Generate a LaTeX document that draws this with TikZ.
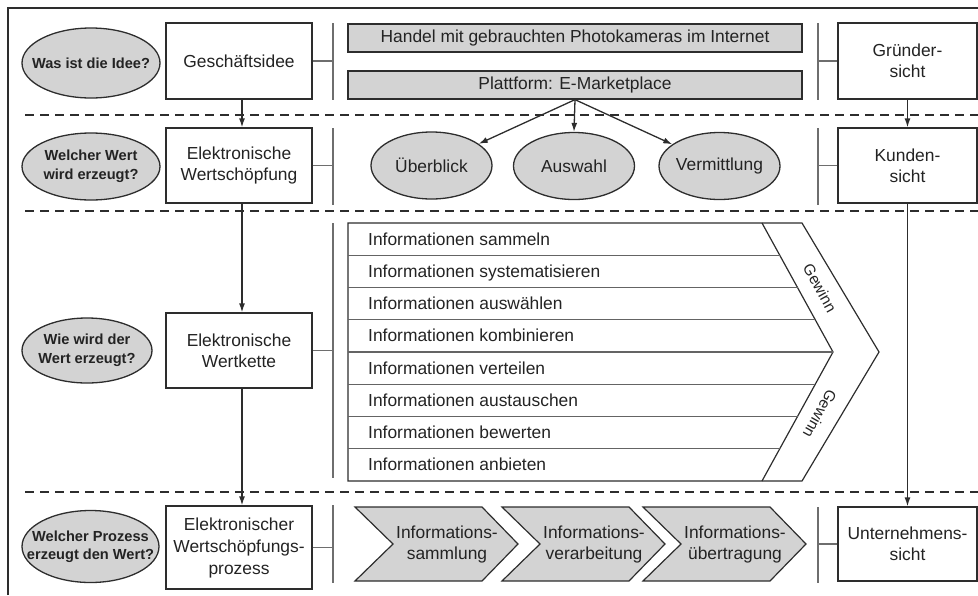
\documentclass[tikz,border=0pt]{standalone}
\usepackage{fontspec}
\setmainfont{Liberation Sans}
\usetikzlibrary{shapes.geometric,arrows.meta,calc}
\definecolor{grayf}{RGB}{211,211,211}
\definecolor{linec}{RGB}{45,45,45}
\definecolor{sepc}{RGB}{110,110,110}
\definecolor{rowc}{RGB}{100,100,100}
\definecolor{txtc}{RGB}{35,35,35}
\begin{document}
\begin{tikzpicture}[x=1pt,y=-1pt,
  fnt/.style={font=\fontsize{17.4}{21}\selectfont, text=txtc},
  wbox/.style={draw=linec, line width=1.3pt, fill=white, align=center, inner sep=0pt, fnt},
  gbox/.style={draw=linec, line width=1.3pt, fill=grayf, minimum width=454pt, minimum height=28pt, inner sep=0pt, fnt},
  qell/.style={ellipse, draw=linec, line width=1.3pt, fill=grayf, inner sep=0pt},
  qtxt/.style={font=\bfseries\fontsize{14.6}{18.5}\selectfont, align=center, text=txtc},
  oell/.style={ellipse, draw=linec, line width=1.3pt, fill=grayf, minimum width=121pt, minimum height=67pt, inner sep=0pt},
  otxt/.style={fnt},
  sepline/.style={draw=sepc, line width=1.3pt},
  dline/.style={draw=linec, line width=1.3pt, dash pattern=on 9pt off 6pt},
  arr/.style={draw=linec, line width=1.3pt, -{Latex[length=9pt,width=6pt]}},
  rowline/.style={draw=rowc, line width=1.1pt},
  chainline/.style={draw=linec, line width=1.2pt},
  chev/.style={draw=linec, line width=1.2pt, fill=grayf},
  gw/.style={font=\fontsize{15.5}{18}\selectfont, text=txtc, inner sep=0pt}
]
\useasboundingbox (0,0) rectangle (978,595);

% frame and dashed lines
\draw[linec, line width=1.3pt] (8,595) -- (8,8) -- (978,8);
\draw[dline] (25,115) -- (978,115);
\draw[dline] (25,211) -- (978,211);
\draw[dline] (25,492) -- (978,492);

\coordinate (sxl) at (333,0);
\coordinate (sxr) at (818,0);

% question ellipses
\node[qell, minimum width=138pt, minimum height=70pt, label={[qtxt]center:Was ist die Idee?}] (q1) at (91,63) {};
\node[qell, minimum width=138pt, minimum height=67pt, label={[qtxt]center:{Welcher Wert\\wird erzeugt?}}] (q2) at (91,166.5) {};
\node[qell, minimum width=130pt, minimum height=65pt, label={[qtxt]center:{Wie wird der\\Wert erzeugt?}}] (q3) at (87,350.5) {};
\node[qell, minimum width=137pt, minimum height=72pt, label={[qtxt]center:{Welcher Prozess\\erzeugt den Wert?}}] (q4) at (90.5,546.5) {};

% left boxes
\node[wbox, minimum width=146pt, minimum height=76pt] (b1) at (239,61) {Geschäftsidee};
\node[wbox, minimum width=146pt, minimum height=75pt] (b2) at (239,165.5) {Elektronische\\Wertschöpfung};
\node[wbox, minimum width=146pt, minimum height=75pt] (b3) at (239,350.5) {Elektronische\\Wertkette};
\node[wbox, minimum width=146pt, minimum height=83pt, font=\fontsize{17.4}{22}\selectfont] (b4) at (239,547.5) {Elektronischer\\Wertschöpfungs-\\prozess};

% right boxes
\node[wbox, minimum width=139pt, minimum height=76pt] (r1) at (907.5,61) {Gründer-\\sicht};
\node[wbox, minimum width=139pt, minimum height=75pt] (r2) at (907.5,165.5) {Kunden-\\sicht};
\node[wbox, minimum width=139pt, minimum height=74pt] (r3) at (907.5,544) {Unternehmens-\\sicht};

% separators
\foreach \ya/\yb in {23/100,128/205,223/478,505/583} \draw[sepline] (333,\ya) -- (333,\yb);
\foreach \ya/\yb in {23/100,128/205,507/583} \draw[sepline] (818,\ya) -- (818,\yb);
\draw[sepline] (b1.east) -- (b1.east -| sxl);
\draw[sepline] (b2.east) -- (b2.east -| sxl);
\draw[sepline] (b3.east) -- (b3.east -| sxl);
\draw[sepline] (b4.east) -- (b4.east -| sxl);
\draw[sepline] (r1.west) -- (r1.west -| sxr);
\draw[sepline] (r2.west) -- (r2.west -| sxr);
\draw[sepline] (r3.west) -- (r3.west -| sxr);

% top gray boxes
\node[gbox] (idea) at (575,38) {Handel mit gebrauchten Photokameras im Internet};
\node[gbox] (plat) at (575,85) {Plattform: E-Marketplace};

% value ellipses
\node[oell, label={[otxt]center:Überblick}] (o1) at (431.5,165.5) {};
\node[oell, label={[otxt]center:Auswahl}] (o2) at (574,166) {};
\node[oell, label={[otxt]center:Vermittlung}] (o3) at (719.5,166) {};

% arrows
\draw[arr] ([xshift=3pt]b1.south) -- ([xshift=3pt]b2.north);
\draw[arr] ([xshift=3pt]b2.south) -- ([xshift=3pt]b3.north);
\draw[arr] ([xshift=3pt]b3.south) -- ([xshift=3pt]b4.north);
\draw[arr] (r1.south) -- (r2.north);
\draw[arr] (r2.south) -- (r3.north);
\draw[arr] (plat.south) -- (o1);
\draw[arr] (plat.south) -- (o2.north);
\draw[arr] (plat.south) -- (o3);

% value chain
\draw[chainline] (348,223) -- (802,223) -- (879,352) -- (802,481) -- (348,481) -- cycle;
\draw[chainline] (762,223) -- (833,352) -- (762,481);
\foreach \yy/\xx in {255.25/779.75, 287.5/797.5, 319.75/815.25, 352/833, 384.25/815.25, 416.5/797.5, 448.75/779.75}
  \draw[rowline] (348,\yy) -- (\xx,\yy);
\foreach \t [count=\i] in {sammeln,systematisieren,auswählen,kombinieren,verteilen,austauschen,bewerten,anbieten}
  \node[fnt, anchor=base west, inner sep=0pt] (row\i) at (368,{223+32.25*(\i-0.5)+6}) {Informationen \t};
\node[gw, rotate=-61] (gw1) at (820,288) {Gewinn};
\node[gw, rotate=-119] (gw2) at (820,414) {Gewinn};

% process chevrons
\draw[chev] (355,507) -- ++(127,0) -- ++(36,37) -- ++(-36,37) -- ++(-127,0) -- ++(38,-37) -- cycle;
\draw[chev] (502,507) -- ++(127,0) -- ++(36,37) -- ++(-36,37) -- ++(-127,0) -- ++(38,-37) -- cycle;
\draw[chev] (643,507) -- ++(127,0) -- ++(36,37) -- ++(-36,37) -- ++(-127,0) -- ++(38,-37) -- cycle;
\node[fnt, align=center, inner sep=0pt] (c1) at (447,544) {Informations-\\sammlung};
\node[fnt, align=center, inner sep=0pt] (c2) at (594,544) {Informations-\\verarbeitung};
\node[fnt, align=center, inner sep=0pt] (c3) at (735,544) {Informations-\\übertragung};
\end{tikzpicture}
\end{document}
